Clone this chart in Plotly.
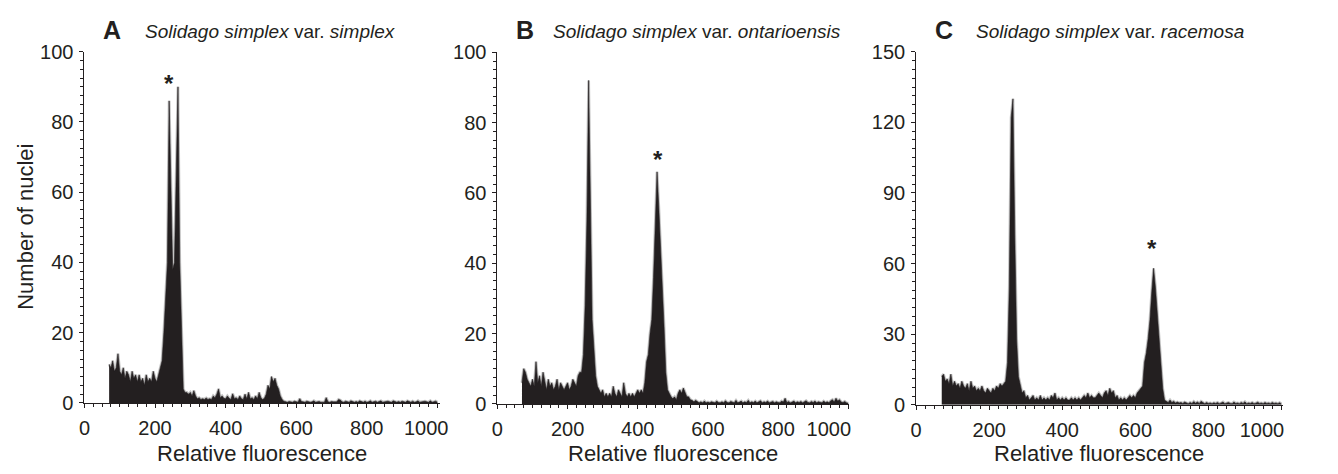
import plotly.graph_objects as go

# channel centres (relative fluorescence), 5-unit bins
channels = list(range(70, 1001, 5))

# number of nuclei per bin
counts_a = [
    11, 10, 12, 9, 10, 14, 9, 8, 10, 7,
    9, 8, 6, 9, 7, 8, 6, 8, 6, 7,
    5, 8, 6, 7, 6, 9, 7, 6, 8, 10,
    12, 20, 30, 40, 86, 58, 38, 40, 65, 90,
    40, 21, 4, 3, 3, 2.5, 3, 2, 3.5, 2,
    1.2, 1.5, 1, 1.2, 1, 1.4, 1, 1.2, 1, 2,
    1.5, 2.5, 4, 1.5, 2, 1.3, 1.2, 2, 1.3, 1,
    2.6, 1.2, 1.5, 1, 2, 1.2, 1, 2.5, 1.2, 3,
    1.2, 1.5, 1, 2, 1.2, 3, 1.5, 1, 1.3, 2.5,
    5, 4, 7.5, 6, 7, 5, 4, 2, 1, 0.5,
    0.3, 0.2, 0.4, 0.3, 0.2, 0.5, 0.3, 0.2, 1.2, 0.4,
    0.3, 0.2, 0.5, 0.3, 0.2, 0.3, 0.6, 0.2, 0.3, 0.4,
    0.2, 0.3, 0.2, 1.5, 0.3, 0.2, 0.4, 0.3, 0.2, 0.3,
    1.0, 0.8, 0.3, 0.2, 0.5, 0.3, 0.2, 0.6, 0.3, 0.2,
    0.4, 0.2, 0.6, 0.3, 0.2, 0.5, 0.2, 0.3, 0.6, 0.2,
    0.3, 0.5, 0.2, 0.3, 0.6, 0.2, 0.3, 0.2, 0.5, 0.3,
    0.2, 0.6, 0.3, 0.2, 0.4, 0.2, 0.5, 0.3, 0.2, 0.6,
    0.3, 0.2, 0.5, 0.2, 0.3, 0.6, 0.2, 0.3, 0.2, 0.5,
    0.3, 0.2, 0.6, 0.2, 0.3, 0.5, 0.2,
]

counts_b = [
    6, 10, 9, 7, 6, 5, 7, 5, 12, 6,
    8, 5, 9, 6, 4, 7, 5, 6, 4, 5,
    7, 4, 6, 5, 4, 5, 6, 4, 5, 7,
    6, 5, 8, 9, 9, 14, 28, 52, 92, 55,
    24, 16, 8, 5, 4, 3, 4, 2, 3, 2,
    3, 2, 5, 3, 2, 4, 3, 2, 6, 3,
    2, 3, 2, 3, 2, 3, 4, 3, 4, 3,
    6, 12, 14, 20, 24, 36, 50, 66, 56, 46,
    32, 22, 9, 4, 3, 2, 1.5, 2, 1.2, 3,
    4, 3, 4.5, 3, 2, 2, 1.2, 1, 0.6, 1,
    0.5, 0.3, 0.6, 0.3, 0.8, 0.3, 0.5, 0.3, 0.6, 0.4,
    0.3, 0.8, 0.4, 0.3, 0.6, 0.3, 0.9, 0.4, 0.3, 0.7,
    0.4, 0.3, 1.0, 0.3, 0.5, 0.8, 0.3, 0.6, 0.4, 1.0,
    0.3, 0.6, 0.4, 0.8, 0.3, 0.5, 0.9, 0.3, 0.6, 0.4,
    0.8, 0.3, 0.5, 0.7, 0.3, 0.6, 0.4, 0.3, 0.8, 0.5,
    1.6, 0.4, 0.7, 0.3, 0.5, 0.8, 0.3, 0.6, 0.4, 0.7,
    0.3, 0.6, 0.9, 0.4, 0.3, 0.7, 0.4, 0.8, 0.3, 0.6,
    0.5, 0.3, 0.8, 0.4, 0.6, 0.3, 0.9, 1.2, 0.5, 1.6,
    0.8, 1.2, 0.5, 0.4, 0.7, 0.3, 0.2,
]

counts_c = [
    12, 13, 10, 11, 9, 13, 8, 10, 8, 9,
    7, 10, 8, 7, 9, 6, 10, 7, 8, 6,
    7, 6, 8, 6, 5, 7, 6, 5, 7, 6,
    8, 7, 9, 8, 9, 10, 18, 50, 122, 130,
    72, 28, 12, 8, 5, 6, 3, 4, 2, 3,
    4, 2, 3, 2, 4, 2, 3, 2, 3, 2,
    4, 3, 5, 2, 3, 2, 3, 2, 3, 2,
    2, 3, 2, 3, 2, 3, 2, 3, 4, 3,
    5, 3, 4, 3, 3, 4, 5, 4, 3, 5,
    6, 4, 7, 5, 6, 3, 4, 2, 3, 2,
    3, 2, 3, 4, 3, 4, 3, 5, 6, 7,
    8, 18, 22, 28, 36, 48, 58, 50, 39, 28,
    17, 7, 2, 1.5, 1, 2, 1, 1.5, 0.8, 1.2,
    0.8, 1, 0.6, 1.2, 0.8, 0.5, 1, 0.6, 1.4, 0.7,
    1.2, 0.6, 1.5, 0.8, 0.5, 1, 0.6, 0.8, 0.5, 0.9,
    0.6, 1, 0.5, 0.8, 1.2, 0.5, 0.7, 1, 0.6, 0.5,
    1.2, 0.6, 0.8, 0.5, 1, 0.6, 1.3, 0.5, 0.8, 0.6,
    1, 0.5, 0.7, 1.1, 0.6, 0.8, 0.5, 1, 0.6, 0.8,
    0.5, 1, 0.6, 0.8, 0.5, 0.9, 0.4,
]

panel_letters = ["A", "B", "C"]
varieties = ["simplex", "ontarioensis", "racemosa"]
y_max = [100, 100, 150]
y_dtick = [20, 20, 30]
# asterisk over the sample peak (channel, count)
stars = [(240, 91), (457, 69.5), (645, 66.5)]

x_ticks = [0, 200, 400, 600, 800, 1000]
# the last label sits left of its tick, as in the original figure
x_last_label = ["1000\u2007\u2007", "1000\u2007\u2007\u2007\u2008", "1000\u2007\u2007\u2007\u2008"]

W, H = 1338, 474
INK = "#231f20"
FONT = "Liberation Sans, Arial, sans-serif"

# pixel boxes of the three plot areas
x_px = [(81.3, 450), (509.3, 874), (943.3, 1323)]
x_end = [1008, 1003, 1003]
y_px = [(42.7, 411), (43.3, 412), (42.7, 413)]

fig = go.Figure()

for i, counts in enumerate([counts_a, counts_b, counts_c]):
    assert len(counts) == len(channels)
    sfx = "" if i == 0 else str(i + 1)
    # soft grey fringe along the spiky top edge
    fig.add_trace(
        go.Scatter(
            x=channels,
            y=counts,
            mode="lines",
            line=dict(color="#c4c4c4", width=2.8),
            xaxis="x" + sfx,
            yaxis="y" + sfx,
            hoverinfo="skip",
        )
    )
    fig.add_trace(
        go.Scatter(
            x=channels,
            y=counts,
            mode="lines",
            fill="tozeroy",
            fillcolor=INK,
            line=dict(color=INK, width=0.6),
            xaxis="x" + sfx,
            yaxis="y" + sfx,
        )
    )

axis_common = dict(
    showgrid=False,
    zeroline=False,
    showline=True,
    linecolor=INK,
    linewidth=1,
    ticks="outside",
    tickcolor=INK,
    tickwidth=1,
    ticklen=4,
    tickfont=dict(family=FONT, size=20, color=INK),
)

layout = {}
for i in range(3):
    sfx = "" if i == 0 else str(i + 1)
    x0, x1 = x_px[i]
    yt, yb = y_px[i]
    layout["xaxis" + sfx] = dict(
        axis_common,
        domain=[x0 / W, x1 / W],
        range=[0, x_end[i]],
        anchor="y" + sfx,
        tickmode="array",
        tickvals=x_ticks,
        ticktext=["0", "200", "400", "600", "800", x_last_label[i]],
        ticklabelstandoff=3,
        minor=dict(tickmode="linear", tick0=0, dtick=25, ticklen=3,
                   tickcolor=INK, tickwidth=1),
    )
    layout["yaxis" + sfx] = dict(
        axis_common,
        domain=[1 - yb / H, 1 - yt / H],
        range=[0, y_max[i]],
        anchor="x" + sfx,
        dtick=y_dtick[i],
        tick0=0,
        ticklabelstandoff=2,
        minor=dict(dtick=y_dtick[i] / 8, ticklen=3, tickcolor=INK, tickwidth=1),
    )

annotations = []
letter_x = [110, 538, 971.7]
name_x = [142, 565, 1003.3]
for i in range(3):
    annotations.append(dict(
        text="<b>" + panel_letters[i] + "</b>", x=letter_x[i] / W, y=1 - 20 / H,
        xref="paper", yref="paper", xanchor="center", yanchor="middle",
        showarrow=False, font=dict(family=FONT, size=25, color=INK),
    ))
    annotations.append(dict(
        text="<i>Solidago simplex</i> var. <i>" + varieties[i] + "</i>",
        x=name_x[i] / W, y=1 - 21 / H,
        xref="paper", yref="paper", xanchor="left", yanchor="middle",
        showarrow=False, font=dict(family=FONT, size=19, color=INK),
    ))
    x0, x1 = x_px[i]
    annotations.append(dict(
        text="Relative fluorescence", x=(x0 + x1) / 2 / W, y=1 - 464 / H,
        xref="paper", yref="paper", xanchor="center", yanchor="middle",
        showarrow=False, font=dict(family=FONT, size=22, color=INK),
    ))

annotations.append(dict(
    text="Number of nuclei", x=20 / W, y=1 - 226 / H, textangle=-90,
    xref="paper", yref="paper", xanchor="center", yanchor="middle",
    showarrow=False, font=dict(family=FONT, size=22, color=INK),
))

for star, sfx in zip(stars, ["", "2", "3"]):
    annotations.append(dict(
        text="<b>*</b>", x=star[0], y=star[1], xref="x" + sfx, yref="y" + sfx,
        xanchor="center", yanchor="middle", showarrow=False,
        font=dict(family=FONT, size=24, color=INK),
    ))

fig.update_layout(
    **layout,
    annotations=annotations,
    width=W,
    height=H,
    margin=dict(l=0, r=0, t=0, b=0),
    paper_bgcolor="white",
    plot_bgcolor="white",
    showlegend=False,
)

# the page's default body margin would push the figure off the window
fig.write_html(
    "out.html",
    config={"displayModeBar": False},
    post_script="document.body.style.margin='0';"
    "document.body.style.overflow='hidden';"
    "document.documentElement.style.overflow='hidden';",
)
